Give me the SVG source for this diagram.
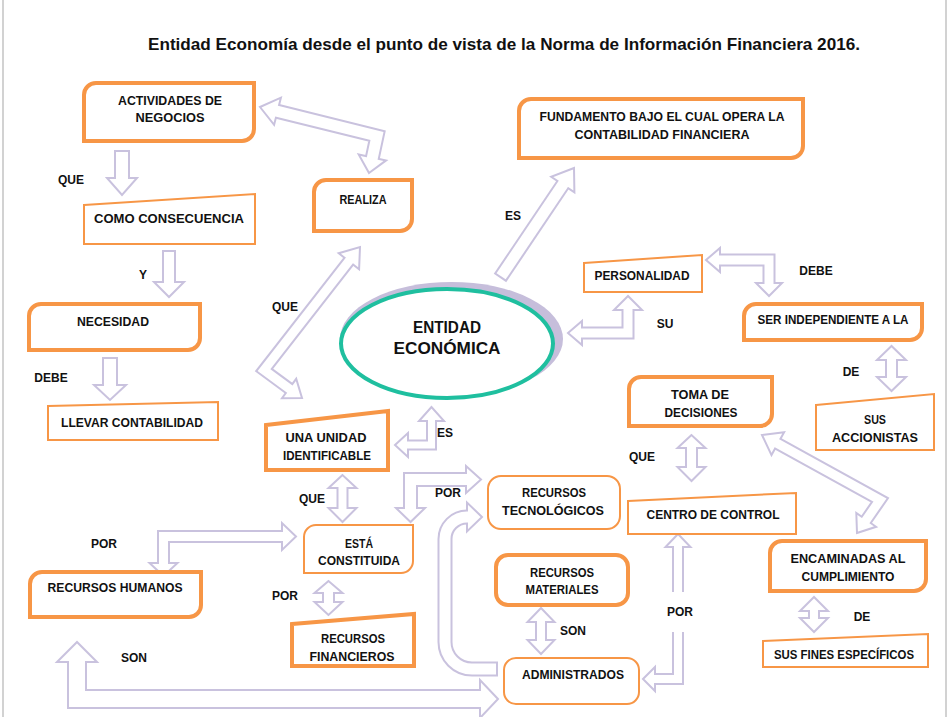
<svg xmlns="http://www.w3.org/2000/svg" width="950" height="717" viewBox="0 0 950 717">
<style>
.bg{fill:#fff}
.edge{stroke:#d2d2d2;stroke-width:2}
.box{fill:#fff;stroke:#f79646;stroke-linejoin:miter}
.thick{stroke-width:4}
.thin{stroke-width:2}
.t{font-family:"Liberation Sans",Arial,sans-serif;font-weight:bold;font-size:12.5px;text-anchor:middle;fill:#111}
.l{font-family:"Liberation Sans",Arial,sans-serif;font-weight:bold;font-size:12px;text-anchor:middle;fill:#111}
.title{font-family:"Liberation Sans",Arial,sans-serif;font-weight:bold;font-size:17px;fill:#111}
.et{font-family:"Liberation Sans",Arial,sans-serif;font-weight:bold;font-size:16px;text-anchor:middle;fill:#111}
.ao{fill:none;stroke:#c9c2de;stroke-linejoin:miter;stroke-miterlimit:10}
.ai{fill:none;stroke:#fff;stroke-linejoin:miter;stroke-miterlimit:10}
.ah{fill:#fff;stroke:#c9c2de;stroke-width:2;stroke-linejoin:miter}
</style>
<rect class="bg" x="0" y="0" width="950" height="717"/>
<line class="edge" x1="3" y1="0" x2="3" y2="717"/>
<line class="edge" x1="946" y1="0" x2="946" y2="717"/>
<text class="title" x="148" y="50" textLength="712" lengthAdjust="spacingAndGlyphs">Entidad Economía desde el punto de vista de la Norma de Información Financiera 2016.</text>

<g id="connectors">
  <!-- A: actividades <-> realiza -->
  <path class="ao" stroke-width="15" d="M274.6,110.6 L377,136 L371.8,160.3"/>
  <polygon class="ah" points="260,107 280.9,97.7 274.1,124.9"/>
  <polygon class="ah" points="369,173 386.1,160.4 358.7,154.4"/>
  <path class="ai" stroke-width="11" d="M274.6,110.6 L377,136 L371.8,160.3"/>
  <!-- B -->
  <path class="ao" stroke-width="16" d="M122,150 V181"/>
  <polygon class="ah" points="107,178 137,178 122,195"/>
  <path class="ai" stroke-width="12" d="M122,152 V181"/>
  <!-- C -->
  <path class="ao" stroke-width="14" d="M169,250 V285"/>
  <polygon class="ah" points="154,282 184,282 169,297"/>
  <path class="ai" stroke-width="10" d="M169,252 V285"/>
  <!-- D -->
  <path class="ao" stroke-width="16" d="M110,357 V388"/>
  <polygon class="ah" points="94,385 126,385 110,400"/>
  <path class="ai" stroke-width="12" d="M110,359 V388"/>
  <!-- E: realiza <-> una unidad -->
  <path class="ao" stroke-width="13" d="M350.7,258.8 L264,370 L291.5,390.3"/>
  <polygon class="ah" points="360,247 359.1,269.2 338.7,253.2"/>
  <polygon class="ah" points="302,398 282,398.2 296.2,378.8"/>
  <path class="ai" stroke-width="9" d="M350.7,258.8 L264,370 L291.5,390.3"/>
  <!-- F: ES -->
  <path class="ao" stroke-width="15" d="M500,278 L564.5,182.1"/>
  <polygon class="ah" points="574,168 574.4,192.4 551.2,176.8"/>
  <path class="ai" stroke-width="11" d="M501.1,276.3 L564.5,182.1"/>
  <!-- G: personalidad <-> ser independiente -->
  <path class="ao" stroke-width="13" d="M717,260 H769 V286"/>
  <polygon class="ah" points="706,260 720,248 720,272"/>
  <polygon class="ah" points="769,296 756,283 782,283"/>
  <path class="ai" stroke-width="9" d="M717,260 H769 V286"/>
  <!-- H: personalidad <-> entidad -->
  <path class="ao" stroke-width="13" d="M579,333 H628 V307"/>
  <polygon class="ah" points="568,333 582,321 582,345"/>
  <polygon class="ah" points="628,296 614,310 642,310"/>
  <path class="ai" stroke-width="9" d="M579,333 H628 V307"/>
  <!-- I -->
  <path class="ao" stroke-width="13" d="M891.5,357 V380"/>
  <polygon class="ah" points="891.5,346 877,360 906,360"/>
  <polygon class="ah" points="891.5,391 877,377 906,377"/>
  <path class="ai" stroke-width="9" d="M891.5,357 V380"/>
  <!-- J -->
  <path class="ao" stroke-width="13" d="M691.5,445 V470"/>
  <polygon class="ah" points="691.5,435 677.5,448 705.5,448"/>
  <polygon class="ah" points="691.5,481 677.5,467 705.5,467"/>
  <path class="ai" stroke-width="9" d="M691.5,445 V470"/>
  <!-- K: toma <-> encaminadas -->
  <path class="ao" stroke-width="13" d="M775.2,442.3 L880,500 L864.5,522.4"/>
  <polygon class="ah" points="762,435 784.1,432.3 771.5,455.1"/>
  <polygon class="ah" points="857,533 876.1,526.8 856.3,513"/>
  <path class="ai" stroke-width="9" d="M775.2,442.3 L880,500 L864.5,522.4"/>
  <!-- encaminadas <-> sus fines -->
  <path class="ao" stroke-width="12" d="M814,608 V621"/>
  <polygon class="ah" points="814,597 800,611 828,611"/>
  <polygon class="ah" points="814,632 800,618 828,618"/>
  <path class="ai" stroke-width="8" d="M814,608 V621"/>
  <!-- L: una unidad <-> entidad -->
  <path class="ao" stroke-width="11" d="M405,445 H431.5 V418"/>
  <polygon class="ah" points="395,445 408,433 408,457"/>
  <polygon class="ah" points="431.5,407 419,421 444,421"/>
  <path class="ai" stroke-width="7" d="M405,445 H431.5 V418"/>
  <!-- M -->
  <path class="ao" stroke-width="12" d="M342.5,485 V511"/>
  <polygon class="ah" points="342.5,475 328.5,488 356.5,488"/>
  <polygon class="ah" points="342.5,522 328.5,508 356.5,508"/>
  <path class="ai" stroke-width="8" d="M342.5,485 V511"/>
  <!-- N: esta <-> tecnologicos -->
  <path class="ao" stroke-width="15" d="M410.5,511 V479.5 H469"/>
  <polygon class="ah" points="410.5,522 396,508 425,508"/>
  <polygon class="ah" points="481,479.5 466,466 466,493"/>
  <path class="ai" stroke-width="11" d="M410.5,511 V479.5 H469"/>
  <!-- O: humanos <-> esta -->
  <path class="ao" stroke-width="13" d="M285,536.5 H163.5 V566"/>
  <polygon class="ah" points="296,536.5 282,523 282,550"/>
  <polygon class="ah" points="163.5,576 149.5,563 177.5,563"/>
  <path class="ai" stroke-width="9" d="M285,536.5 H163.5 V566"/>
  <!-- P -->
  <path class="ao" stroke-width="13" d="M328.5,590 V605"/>
  <polygon class="ah" points="328.5,581 314.5,593 342.5,593"/>
  <polygon class="ah" points="328.5,615 314.5,602 342.5,602"/>
  <path class="ai" stroke-width="9" d="M328.5,590 V605"/>
  <!-- Q -->
  <path class="ao" stroke-width="12" d="M541,619 V643"/>
  <polygon class="ah" points="541,608 527.5,622 554.5,622"/>
  <polygon class="ah" points="541,654 527.5,640 554.5,640"/>
  <path class="ai" stroke-width="8" d="M541,619 V643"/>
  <!-- R: centro <-> administrados -->
  <path class="ao" stroke-width="12" d="M678,544 V679 H652"/>
  <polygon class="ah" points="678,534 665.5,547 690.5,547"/>
  <polygon class="ah" points="643,679 655,667 655,691"/>
  <path class="ai" stroke-width="8" d="M678,544 V679 H652"/>
  <!-- S: administrados -> tecnologicos -->
  <path class="ao" stroke-width="15" d="M498,669 H472 A27,27 0 0 1 445,642 V539 A22,22 0 0 1 467,517 H470"/>
  <polygon class="ah" points="482,517 467,502.5 467,531.5"/>
  <path class="ai" stroke-width="11" d="M496,669 H472 A27,27 0 0 1 445,642 V539 A22,22 0 0 1 467,517 H470"/>
  <!-- T: humanos <-> administrados -->
  <path class="ao" stroke-width="20" d="M77,659 V699 H483"/>
  <polygon class="ah" points="77,642 57,662 97,662"/>
  <polygon class="ah" points="498,699 480,680 480,718"/>
  <path class="ai" stroke-width="16" d="M77,659 V699 H483"/>
</g>

<g id="labels">
  <text class="l" x="71" y="184">QUE</text>
  <text class="l" x="143" y="279">Y</text>
  <text class="l" x="51" y="382">DEBE</text>
  <text class="l" x="285" y="311">QUE</text>
  <text class="l" x="513" y="220">ES</text>
  <text class="l" x="665" y="328">SU</text>
  <text class="l" x="816" y="275">DEBE</text>
  <text class="l" x="851" y="376">DE</text>
  <text class="l" x="642" y="461">QUE</text>
  <text class="l" x="445" y="437">ES</text>
  <text class="l" x="448" y="497">POR</text>
  <text class="l" x="312" y="503">QUE</text>
  <text class="l" x="104" y="548">POR</text>
  <text class="l" x="285" y="600">POR</text>
  <text class="l" x="134" y="662">SON</text>
  <text class="l" x="573" y="635">SON</text>
  <rect class="bg" x="663" y="592" width="32" height="40"/>
  <text class="l" x="680" y="616">POR</text>
  <text class="l" x="862" y="621">DE</text>
</g>

<g id="n-entidad">
  <ellipse cx="451.5" cy="339" rx="111.5" ry="57" fill="#c6bedb"/>
  <ellipse cx="447" cy="343.5" rx="106" ry="54.5" fill="#fff" stroke="#1fbf9f" stroke-width="4"/>
  <text class="et" x="447" y="332.5" textLength="68" lengthAdjust="spacingAndGlyphs">ENTIDAD</text>
  <text class="et" x="447" y="353.5" textLength="107" lengthAdjust="spacingAndGlyphs">ECONÓMICA</text>
</g>
<g id="n-actividades">
  <path class="box thick" d="M84,95 A12,12 0 0 1 96,83 H254 V129 A12,12 0 0 1 242,141 H84 Z"/>
  <text class="t" x="170" y="104.5" textLength="104" lengthAdjust="spacingAndGlyphs">ACTIVIDADES DE</text>
  <text class="t" x="170" y="121.5" textLength="69" lengthAdjust="spacingAndGlyphs">NEGOCIOS</text>
</g>
<g id="n-como">
  <path class="box thin" d="M84,205 L255,194 V244 H84 Z"/>
  <text class="t" x="169" y="222.5" textLength="150" lengthAdjust="spacingAndGlyphs">COMO CONSECUENCIA</text>
</g>
<g id="n-realiza">
  <path class="box thick" d="M314,192 A12,12 0 0 1 326,180 H412 V219 A12,12 0 0 1 400,231 H314 Z"/>
  <text class="t" x="363" y="203.5" textLength="47" lengthAdjust="spacingAndGlyphs">REALIZA</text>
</g>
<g id="n-necesidad">
  <path class="box thick" d="M29,316 A12,12 0 0 1 41,304 H200 V338 A12,12 0 0 1 188,350 H29 Z"/>
  <text class="t" x="113" y="325.5" textLength="72" lengthAdjust="spacingAndGlyphs">NECESIDAD</text>
</g>
<g id="n-llevar">
  <path class="box thin" d="M48,406 L218,402 V440 H48 Z"/>
  <text class="t" x="132" y="426.5" textLength="142" lengthAdjust="spacingAndGlyphs">LLEVAR CONTABILIDAD</text>
</g>
<g id="n-unidad">
  <path class="box thick" d="M266,425 L388,411 V470 H266 Z"/>
  <text class="t" x="326" y="441.5" textLength="81" lengthAdjust="spacingAndGlyphs">UNA UNIDAD</text>
  <text class="t" x="327" y="459.5" textLength="88" lengthAdjust="spacingAndGlyphs">IDENTIFICABLE</text>
</g>
<g id="n-esta">
  <path class="box thin" d="M304,537 A12,12 0 0 1 316,525 H413 V561 A12,12 0 0 1 401,573 H304 Z"/>
  <text class="t" x="359" y="547.5" textLength="28" lengthAdjust="spacingAndGlyphs">ESTÁ</text>
  <text class="t" x="359" y="564.5" textLength="82" lengthAdjust="spacingAndGlyphs">CONSTITUIDA</text>
</g>
<g id="n-humanos">
  <path class="box thick" d="M30,584 A12,12 0 0 1 42,572 H201 V605 A12,12 0 0 1 189,617 H30 Z"/>
  <text class="t" x="115" y="591.5" textLength="135" lengthAdjust="spacingAndGlyphs">RECURSOS HUMANOS</text>
</g>
<g id="n-financieros">
  <path class="box thick" d="M292,624 L414,614 V666 H292 Z"/>
  <text class="t" x="353" y="642.5" textLength="64" lengthAdjust="spacingAndGlyphs">RECURSOS</text>
  <text class="t" x="352" y="660.5" textLength="85" lengthAdjust="spacingAndGlyphs">FINANCIEROS</text>
</g>
<g id="n-tecnologicos">
  <rect class="box thin" x="488" y="476" width="132" height="53" rx="13"/>
  <text class="t" x="554" y="496.5" textLength="64" lengthAdjust="spacingAndGlyphs">RECURSOS</text>
  <text class="t" x="553" y="514.5" textLength="102" lengthAdjust="spacingAndGlyphs">TECNOLÓGICOS</text>
</g>
<g id="n-materiales">
  <rect class="box thick" x="496" y="555" width="132" height="50" rx="12"/>
  <text class="t" x="562" y="576.5" textLength="64" lengthAdjust="spacingAndGlyphs">RECURSOS</text>
  <text class="t" x="562" y="593.5" textLength="73" lengthAdjust="spacingAndGlyphs">MATERIALES</text>
</g>
<g id="n-administrados">
  <rect class="box thin" x="504" y="658" width="135" height="46" rx="12"/>
  <text class="t" x="573" y="678.5" textLength="102" lengthAdjust="spacingAndGlyphs">ADMINISTRADOS</text>
</g>
<g id="n-centro">
  <path class="box thin" d="M628,501 L796,493 V534 H628 Z"/>
  <text class="t" x="713" y="518.5" textLength="133" lengthAdjust="spacingAndGlyphs">CENTRO DE CONTROL</text>
</g>
<g id="n-encaminadas">
  <path class="box thick" d="M770,553 A12,12 0 0 1 782,541 H926 V579 A12,12 0 0 1 914,591 H770 Z"/>
  <text class="t" x="848" y="562.5" textLength="115" lengthAdjust="spacingAndGlyphs">ENCAMINADAS AL</text>
  <text class="t" x="848" y="580.5" textLength="93" lengthAdjust="spacingAndGlyphs">CUMPLIMIENTO</text>
</g>
<g id="n-fines">
  <path class="box thin" d="M763,641 L928,634 V667 H763 Z"/>
  <text class="t" x="844" y="658.5" textLength="140" lengthAdjust="spacingAndGlyphs">SUS FINES ESPECÍFICOS</text>
</g>
<g id="n-fundamento">
  <path class="box thick" d="M519,111 A12,12 0 0 1 531,99 H803 V146 A12,12 0 0 1 791,158 H519 Z"/>
  <text class="t" x="662" y="120.5" textLength="245" lengthAdjust="spacingAndGlyphs">FUNDAMENTO BAJO EL CUAL OPERA LA</text>
  <text class="t" x="662" y="138.5" textLength="175" lengthAdjust="spacingAndGlyphs">CONTABILIDAD FINANCIERA</text>
</g>
<g id="n-personalidad">
  <path class="box thin" d="M584,263 L702,255 V292 H584 Z"/>
  <text class="t" x="642" y="279.5" textLength="95" lengthAdjust="spacingAndGlyphs">PERSONALIDAD</text>
</g>
<g id="n-independiente">
  <path class="box thick" d="M744,316 A12,12 0 0 1 756,304 H922 V328 A12,12 0 0 1 910,340 H744 Z"/>
  <text class="t" x="833" y="323.5" textLength="151" lengthAdjust="spacingAndGlyphs">SER INDEPENDIENTE A LA</text>
</g>
<g id="n-toma">
  <path class="box thick" d="M629,389 A12,12 0 0 1 641,377 H772 V414 A12,12 0 0 1 760,426 H629 Z"/>
  <text class="t" x="700" y="398.5" textLength="58" lengthAdjust="spacingAndGlyphs">TOMA DE</text>
  <text class="t" x="701" y="416.5" textLength="73" lengthAdjust="spacingAndGlyphs">DECISIONES</text>
</g>
<g id="n-accionistas">
  <path class="box thin" d="M816,405 L934,394 V450 H816 Z"/>
  <text class="t" x="875" y="423.5" textLength="22" lengthAdjust="spacingAndGlyphs">SUS</text>
  <text class="t" x="875" y="441.5" textLength="86" lengthAdjust="spacingAndGlyphs">ACCIONISTAS</text>
</g>
</svg>
